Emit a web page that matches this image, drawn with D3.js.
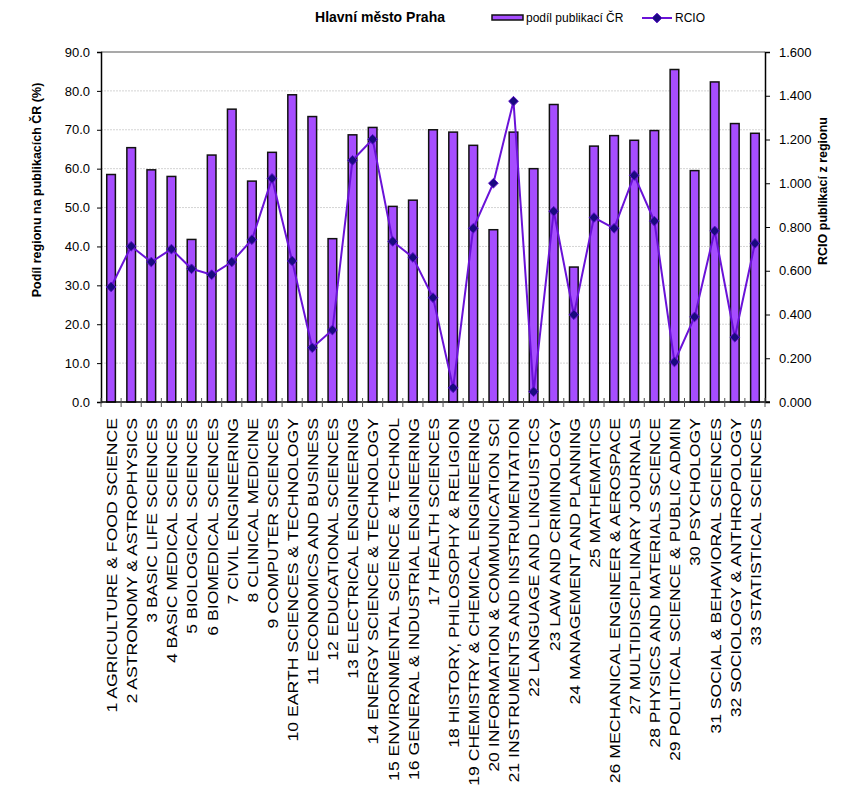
<!DOCTYPE html>
<html><head><meta charset="utf-8">
<script src="https://cdn.jsdelivr.net/npm/d3@7"></script>
<style>body{margin:0;background:#fff;font-family:Arial,"Liberation Sans",sans-serif;}</style>
</head><body>
<svg id="c" width="857" height="793"></svg>
<script>
const categories = [
"1 AGRICULTURE & FOOD SCIENCE","2 ASTRONOMY & ASTROPHYSICS","3 BASIC LIFE SCIENCES","4 BASIC MEDICAL SCIENCES",
"5 BIOLOGICAL SCIENCES","6 BIOMEDICAL SCIENCES","7 CIVIL ENGINEERING","8 CLINICAL MEDICINE","9 COMPUTER SCIENCES",
"10 EARTH SCIENCES & TECHNOLOGY","11 ECONOMICS AND BUSINESS","12 EDUCATIONAL SCIENCES","13 ELECTRICAL ENGINEERING",
"14 ENERGY SCIENCE & TECHNOLOGY","15 ENVIRONMENTAL SCIENCE & TECHNOL","16 GENERAL & INDUSTRIAL ENGINEERING",
"17 HEALTH SCIENCES","18 HISTORY, PHILOSOPHY & RELIGION","19 CHEMISTRY & CHEMICAL ENGINEERING",
"20 INFORMATION & COMMUNICATION SCI","21 INSTRUMENTS AND INSTRUMENTATION","22 LANGUAGE AND LINGUISTICS",
"23 LAW AND CRIMINOLOGY","24 MANAGEMENT AND PLANNING","25 MATHEMATICS","26 MECHANICAL ENGINEER & AEROSPACE",
"27 MULTIDISCIPLINARY JOURNALS","28 PHYSICS AND MATERIALS SCIENCE","29 POLITICAL SCIENCE & PUBLIC ADMIN",
"30 PSYCHOLOGY","31 SOCIAL & BEHAVIORAL SCIENCES","32 SOCIOLOGY & ANTHROPOLOGY","33 STATISTICAL SCIENCES"];
const podil = [58.5,65.4,59.7,58.0,41.8,63.5,75.3,56.8,64.2,79.0,73.4,42.0,68.7,70.6,50.3,51.9,
70.0,69.4,66.0,44.3,69.4,60.0,76.5,34.7,65.8,68.5,67.3,69.8,85.5,59.5,82.3,71.6,69.1];
const rcio = [0.526,0.712,0.640,0.699,0.609,0.582,0.640,0.742,1.022,0.645,0.248,0.329,1.105,1.201,0.734,0.661,
0.477,0.065,0.794,1.000,1.375,0.047,0.872,0.399,0.843,0.794,1.036,0.827,0.183,0.389,0.782,0.296,0.725];
const leftTicks = [0,10,20,30,40,50,60,70,80,90];
const rightTicks = [0,0.2,0.4,0.6,0.8,1.0,1.2,1.4,1.6];
const title = "Hlavní město Praha";
const seriesNames = ["podíl publikací ČR","RCIO"];
const leftTitle = "Podíl regionu na  publikacích ČR (%)";
const rightTitle = "RCIO publikací z regionu";

const L=101, R=765, T=52, B=402;
const svg = d3.select("#c");
const x = d3.scaleBand().domain(categories).range([L,R]).paddingInner(0.57).paddingOuter(0.285);
const y = d3.scaleLinear().domain([0,90]).range([B,T]);
const y2 = d3.scaleLinear().domain([0,1.6]).range([B,T]);

// gridlines
svg.append("g").selectAll("line").data(leftTicks.slice(1,-1)).join("line")
  .attr("x1",L).attr("x2",R).attr("y1",d=>y(d)).attr("y2",d=>y(d))
  .attr("stroke","#d4d4d4").attr("stroke-width",1).attr("stroke-dasharray","2,1");
// top border
svg.append("line").attr("x1",L).attr("x2",R).attr("y1",T).attr("y2",T).attr("stroke","#8c8c8c").attr("stroke-width",1.5);

// bars
svg.append("g").selectAll("rect").data(podil).join("rect")
  .attr("x",(d,i)=>x(categories[i])).attr("width",x.bandwidth())
  .attr("y",d=>y(d)).attr("height",d=>B-y(d))
  .attr("fill","#a64dff").attr("stroke","#111").attr("stroke-width",1.5);

// line
const cx = i => x(categories[i]) + x.bandwidth()/2;
svg.append("path").datum(rcio)
  .attr("d", d3.line().x((d,i)=>cx(i)).y(d=>y2(d)))
  .attr("fill","none").attr("stroke","#6a12d8").attr("stroke-width",2);
const diamond = d3.symbol().type(d3.symbolDiamond2).size(60);
svg.append("g").selectAll("path").data(rcio).join("path")
  .attr("d",diamond()).attr("transform",(d,i)=>`translate(${cx(i)},${y2(d)})`)
  .attr("fill","#1a0a80").attr("stroke","#5a10c8").attr("stroke-width",1);

// axes
const axL = d3.axisLeft(y).tickValues(leftTicks).tickFormat(d3.format(".1f")).tickSize(4).tickPadding(7);
const gL = svg.append("g").attr("transform",`translate(${L},0)`).call(axL);
const axR = d3.axisRight(y2).tickValues(rightTicks).tickFormat(d3.format(".3f")).tickSize(5).tickPadding(9);
const gR = svg.append("g").attr("transform",`translate(${R},0)`).call(axR);
[gL,gR].forEach(g=>{
  g.select(".domain").attr("stroke","#000").attr("stroke-width",1.5);
  g.selectAll(".tick line").attr("stroke","#000");
  g.selectAll("text").attr("font-family","Arial, 'Liberation Sans', sans-serif").attr("font-size",13).attr("fill","#000");
});
// bottom axis
svg.append("line").attr("x1",L).attr("x2",R+5).attr("y1",B).attr("y2",B).attr("stroke","#000").attr("stroke-width",1.5);
const bounds = categories.map((c,i)=>x(c) - x.step()*x.paddingInner()/2).concat([R]);
svg.append("g").selectAll("line").data(bounds).join("line")
  .attr("x1",d=>d).attr("x2",d=>d).attr("y1",B-4).attr("y2",B+5).attr("stroke","#555").attr("stroke-width",1);

// category labels
svg.append("g").selectAll("text").data(categories).join("text")
  .attr("transform",(d,i)=>`translate(${cx(i)+1},418) rotate(-90) scale(1.26,1)`)
  .attr("text-anchor","end").attr("dominant-baseline","central")
  .attr("font-size",14).attr("fill","#000").text(d=>d);

// axis titles
svg.append("text").attr("transform","translate(37,190) rotate(-90)")
  .attr("text-anchor","middle").attr("dominant-baseline","central")
  .attr("font-weight","bold").attr("font-size",12.5).text(leftTitle);
svg.append("text").attr("transform","translate(823,191) rotate(-90)")
  .attr("text-anchor","middle").attr("dominant-baseline","central")
  .attr("font-weight","bold").attr("font-size",12.5).text(rightTitle);

// title
svg.append("text").attr("x",380).attr("y",22).attr("text-anchor","middle")
  .attr("font-weight","bold").attr("font-size",14).text(title);

// legend
const lg = svg.append("g");
lg.append("rect").attr("x",492).attr("y",15).attr("width",31).attr("height",5)
  .attr("fill","#a64dff").attr("stroke","#111").attr("stroke-width",1.5);
lg.append("text").attr("x",526).attr("y",22).attr("font-size",12).text(seriesNames[0]);
lg.append("line").attr("x1",642).attr("x2",672).attr("y1",18).attr("y2",18).attr("stroke","#6a12d8").attr("stroke-width",2);
lg.append("path").attr("d",diamond()).attr("transform","translate(657,18)").attr("fill","#1a0a80").attr("stroke","#5a10c8");
lg.append("text").attr("x",675).attr("y",22).attr("font-size",12).text(seriesNames[1]);
</script>
</body></html>
